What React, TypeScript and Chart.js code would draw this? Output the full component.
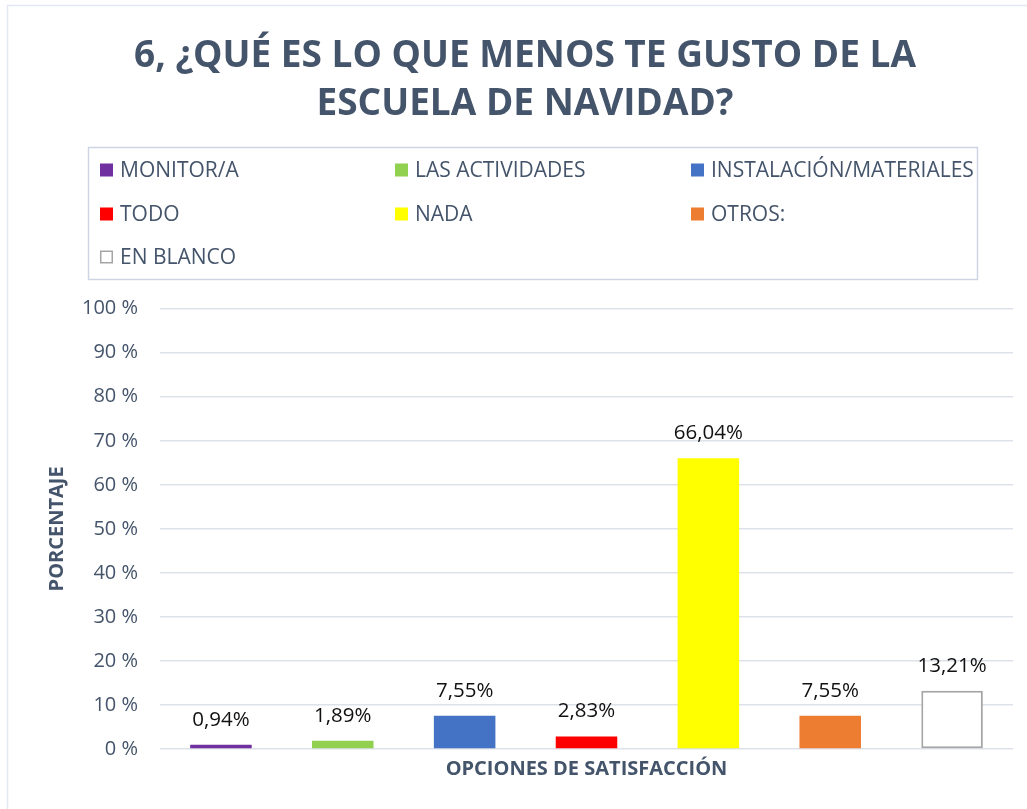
import React, { useEffect, useRef } from "react";
import { Chart, registerables } from "chart.js";

Chart.register(...registerables);

const TITLE_LINES = ["6, ¿QUÉ ES LO QUE MENOS TE GUSTO DE LA", "ESCUELA DE NAVIDAD?"];
const CATEGORIES = [
  "MONITOR/A",
  "LAS ACTIVIDADES",
  "INSTALACIÓN/MATERIALES",
  "TODO",
  "NADA",
  "OTROS:",
  "EN BLANCO",
];
const VALUES = [0.94, 1.89, 7.55, 2.83, 66.04, 7.55, 13.21];
const BAR_COLORS = ["#7030a0", "#92d050", "#4472c4", "#ff0000", "#ffff00", "#ed7d31", "#ffffff"];
const BAR_BORDER_COLORS = ["#7030a0", "#92d050", "#4472c4", "#ff0000", "#ffff00", "#ed7d31", "#a5a5a5"];
const BAR_BORDER_WIDTHS = [0, 0, 0, 0, 0, 0, 2];
const Y_MIN = 0;
const Y_MAX = 100;
const Y_STEP = 10;
const Y_TITLE = "PORCENTAJE";
const X_TITLE = "OPCIONES DE SATISFACCIÓN";

const FONT = "'Open Sans', 'Noto Sans', sans-serif";
const TEXT_COLOR = "#44546a";

const fmtPct = (v: number) => v.toFixed(2).replace(".", ",") + "%";

const backgroundPlugin = {
  id: "bgFrame",
  beforeDraw(chart: any) {
    const { ctx, width, height } = chart;
    ctx.save();
    ctx.fillStyle = "#ffffff";
    ctx.fillRect(0, 0, width, height);
    ctx.strokeStyle = "#e3e8f2";
    ctx.lineWidth = 1.5;
    ctx.strokeRect(7.5, 5.5, width + 50, height + 50);
    ctx.restore();
  },
};

const dataLabelPlugin = {
  id: "dataLabels",
  afterDatasetsDraw(chart: any) {
    const { ctx } = chart;
    const meta = chart.getDatasetMeta(0);
    const values = chart.data.datasets[0].data as number[];
    ctx.save();
    ctx.font = `20.5px ${FONT}`;
    ctx.fillStyle = "#111111";
    ctx.textAlign = "center";
    ctx.textBaseline = "middle";
    meta.data.forEach((bar: any, i: number) => {
      ctx.fillText(fmtPct(values[i]), bar.x, bar.y - 25);
    });
    ctx.restore();
  },
};

const gridLegendPlugin = {
  id: "gridLegend",
  afterDraw(chart: any) {
    const { ctx } = chart;
    const labels = chart.data.labels as string[];
    const ds = chart.data.datasets[0];
    const box = { left: 88.5, top: 147.5, right: 977.5, bottom: 279.5 };
    const colX = [100, 395, 691];
    const rowY = [170, 214, 257];
    ctx.save();
    ctx.strokeStyle = "#cdd5e5";
    ctx.lineWidth = 1.5;
    ctx.strokeRect(box.left, box.top, box.right - box.left, box.bottom - box.top);
    ctx.font = `21px ${FONT}`;
    ctx.textAlign = "left";
    ctx.textBaseline = "middle";
    labels.forEach((label, i) => {
      const x = colX[i % 3];
      const y = rowY[Math.floor(i / 3)];
      const size = 13;
      ctx.fillStyle = ds.backgroundColor[i];
      ctx.fillRect(x, y - size / 2, size, size);
      if (ds.borderWidth[i] > 0) {
        ctx.strokeStyle = ds.borderColor[i];
        ctx.lineWidth = 1.5;
        ctx.strokeRect(x + 0.75, y - size / 2 + 0.75, size - 1.5, size - 1.5);
      }
      ctx.fillStyle = TEXT_COLOR;
      ctx.fillText(label, x + 20, y + 1);
    });
    ctx.restore();
  },
};

export default function App() {
  const canvasRef = useRef<HTMLCanvasElement | null>(null);

  useEffect(() => {
    if (!canvasRef.current) return;
    const chart = new Chart(canvasRef.current, {
      type: "bar",
      data: {
        labels: CATEGORIES,
        datasets: [
          {
            data: VALUES,
            backgroundColor: BAR_COLORS,
            borderColor: BAR_BORDER_COLORS,
            borderWidth: BAR_BORDER_WIDTHS,
            borderSkipped: false,
            categoryPercentage: 1,
            barPercentage: 0.505,
          } as any,
        ],
      },
      options: {
        animation: false,
        responsive: false,
        maintainAspectRatio: false,
        layout: { padding: { left: 37, right: 14, top: 0, bottom: 0 } },
        plugins: {
          legend: { display: false },
          tooltip: { enabled: false },
          title: {
            display: true,
            text: TITLE_LINES,
            color: TEXT_COLOR,
            font: { family: FONT, size: 37, weight: "bold", lineHeight: 1.28 },
            padding: { top: 33, bottom: 181 },
          },
        },
        scales: {
          x: {
            grid: { display: false },
            border: { display: false },
            ticks: { display: false },
            title: {
              display: true,
              text: X_TITLE,
              color: TEXT_COLOR,
              font: { family: FONT, size: 20, weight: "bold", lineHeight: 1.2 },
              padding: { top: 0, bottom: 28 },
            },
            afterFit: (s: any) => {
              s.height = 60;
            },
          },
          y: {
            min: Y_MIN,
            max: Y_MAX,
            border: { display: false },
            grid: { color: "#dde1e9", lineWidth: 1.5, drawTicks: false },
            ticks: {
              stepSize: Y_STEP,
              padding: 22,
              color: TEXT_COLOR,
              font: { family: FONT, size: 20 },
              callback: (v: any) => `${v} %`,
            },
            title: {
              display: true,
              text: Y_TITLE,
              color: TEXT_COLOR,
              font: { family: FONT, size: 20, weight: "bold", lineHeight: 1.2 },
              padding: { top: 8, bottom: 0 },
            },
            afterFit: (s: any) => {
              s.width = 123;
            },
          },
        },
      },
      plugins: [backgroundPlugin, dataLabelPlugin, gridLegendPlugin],
    });
    return () => chart.destroy();
  }, []);

  return (
    <div style={{ position: "absolute", left: 0, top: 0, width: 1027, height: 809 }}>
      <canvas ref={canvasRef} width={1027} height={809} style={{ display: "block" }} />
    </div>
  );
}
